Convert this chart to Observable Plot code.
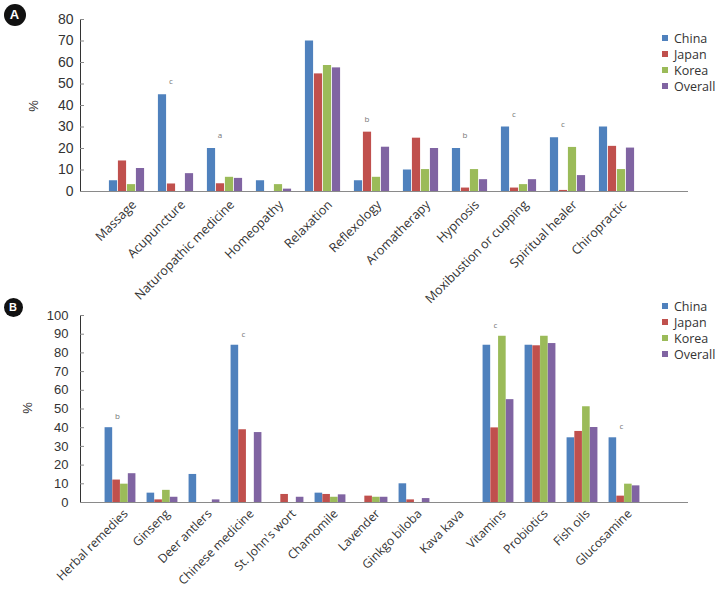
<!DOCTYPE html>
<html><head><meta charset="utf-8">
<script src="https://cdn.jsdelivr.net/npm/d3@7"></script>
<script src="https://cdn.jsdelivr.net/npm/@observablehq/plot@0.6"></script>
<style>
body{margin:0;background:#fff;}
#wrap{position:relative;width:716px;height:589px;overflow:hidden;background:#fff;}
.panel{position:absolute;left:0;}
.panel svg{overflow:visible;}
.panel svg [aria-label^="y-axis"]:not([aria-label$="label"]){stroke:#8a8a8a;}
.badge{position:absolute;border-radius:50%;background:#111;color:#fff;font-family:"Liberation Sans",Arial,sans-serif;font-weight:bold;display:flex;align-items:center;justify-content:center;}
.legend{position:absolute;left:662px;font:12.5px/15px "Open Sans",sans-serif;color:#333;}
.legend div{height:16px;line-height:15px;display:flex;align-items:center;white-space:nowrap;}
.legend .sw{width:6px;height:6px;margin-right:6px;display:inline-block;}
.ylab{position:absolute;font:13px "Liberation Sans",Arial,sans-serif;color:#333;transform:translate(-50%,-50%) rotate(-90deg);}
</style></head><body><div id="wrap"></div>
<script>
// ---------- data ----------
const countries = ["China", "Japan", "Korea", "Overall"];
const colors = ["#4f81bd", "#c0504d", "#9bbb59", "#8064a2"];

const therapies = ["Massage", "Acupuncture", "Naturopathic medicine", "Homeopathy", "Relaxation", "Reflexology", "Aromatherapy", "Hypnosis", "Moxibustion or cupping", "Spiritual healer", "Chiropractic"];
const therapyChina = [5, 45, 20, 5, 70, 5, 10, 20, 30, 25, 30];
const therapyJapan = [14.2, 3.5, 3.6, 0, 54.7, 27.6, 24.8, 1.6, 1.6, 0.5, 21];
const therapyKorea = [3.2, 0, 6.6, 3.2, 58.6, 6.6, 10.2, 10.2, 3.2, 20.5, 10.2];
const therapyOverall = [10.7, 8.3, 6.1, 1.1, 57.5, 20.6, 20, 5.5, 5.5, 7.4, 20.2];
const therapyNotes = ["", "c", "a", "", "", "b", "", "b", "c", "c", ""];
const therapyTicks = [0, 10, 20, 30, 40, 50, 60, 70, 80];

const products = ["Herbal remedies", "Ginseng", "Deer antlers", "Chinese medicine", "St. John's wort", "Chamomile", "Lavender", "Ginkgo biloba", "Kava kava", "Vitamins", "Probiotics", "Fish oils", "Glucosamine"];
const productChina = [40, 5, 15, 84.1, 0, 5, 0, 10, 0, 84.1, 84.1, 34.6, 34.6];
const productJapan = [12, 1.4, 0, 38.9, 4.3, 4.3, 3.4, 1.4, 0, 39.9, 83.8, 38, 3.4];
const productKorea = [9.8, 6.5, 0, 0, 0, 2.8, 2.8, 0, 0, 88.9, 88.9, 51.2, 9.8];
const productOverall = [15.4, 2.8, 1.4, 37.4, 2.8, 4.1, 2.8, 2.1, 0, 55, 85, 40.1, 8.9];
const productNotes = ["b", "", "", "c", "", "", "", "", "", "c", "", "", "c"];
const productTicks = [0, 10, 20, 30, 40, 50, 60, 70, 80, 90, 100];

// ---------- drawing ----------
const wrap = document.getElementById("wrap");

function panel(cfg) {
  const width = 716, marginLeft = 80, marginRight = 28;
  const n = cfg.cats.length;
  const bw = (width - marginLeft - marginRight - cfg.insetLeft - cfg.insetRight) / n;
  const barW = cfg.groupW / 4;
  const marks = [];
  cfg.series.forEach((s, k) => {
    const il = bw / 2 - cfg.groupW / 2 + k * barW;
    marks.push(Plot.barY(cfg.cats.map((c, i) => ({cat: c, v: s[i]})), {
      x: "cat", y: "v", fill: colors[k], insetLeft: il, insetRight: bw - il - barW
    }));
  });
  marks.push(Plot.ruleY([0], {stroke: "#8a8a8a", strokeWidth: 1}));
  marks.push(Plot.text(cfg.cats, {
    x: d => d, frameAnchor: "bottom", rotate: -45, textAnchor: "end",
    dx: cfg.labelDx, dy: cfg.labelDy, fontSize: cfg.labelFont, fontFamily: "Open Sans", fill: "#333"
  }));
  const noteRows = cfg.cats.map((c, i) => ({cat: c, note: cfg.notes[i], top: Math.max(...cfg.series.map(s => s[i]))}))
    .filter(d => d.note);
  marks.push(Plot.text(noteRows, {
    x: "cat", y: "top", text: "note", dx: cfg.noteDx, dy: cfg.noteDy, fontSize: 8, fill: "#777", fontFamily: "Open Sans"
  }));
  const svg = Plot.plot({
    width, height: cfg.height, marginLeft, marginRight, marginTop: cfg.marginTop, marginBottom: cfg.marginBottom,
    style: {fontFamily: "Liberation Sans, Arial, sans-serif", fontSize: cfg.tickFont + "px", color: "#333", background: "transparent", overflow: "visible"},
    x: {domain: cfg.cats, padding: 0, insetLeft: cfg.insetLeft, insetRight: cfg.insetRight, axis: null},
    y: {domain: [0, cfg.ticks[cfg.ticks.length - 1]], ticks: cfg.ticks, tickSize: -4, tickPadding: cfg.tickPadding, label: null, line: true},
    marks
  });
  const holder = document.createElement("div");
  holder.className = "panel";
  holder.style.top = cfg.top + "px";
  holder.appendChild(svg);
  wrap.appendChild(holder);

  // badge
  const b = document.createElement("div");
  b.className = "badge";
  b.textContent = cfg.letter;
  b.style.left = (cfg.badge[0] - cfg.badge[2] / 2) + "px";
  b.style.top = (cfg.badge[1] - cfg.badge[2] / 2) + "px";
  b.style.width = b.style.height = cfg.badge[2] + "px";
  b.style.fontSize = Math.round(cfg.badge[2] * 0.6) + "px";
  wrap.appendChild(b);

  // y label
  const yl = document.createElement("div");
  yl.className = "ylab";
  yl.textContent = "%";
  yl.style.left = cfg.ylab[0] + "px";
  yl.style.top = cfg.ylab[1] + "px";
  wrap.appendChild(yl);

  // legend
  const lg = document.createElement("div");
  lg.className = "legend";
  lg.style.top = cfg.legendTop + "px";
  countries.forEach((c, k) => {
    const row = document.createElement("div");
    const sw = document.createElement("span");
    sw.className = "sw"; sw.style.background = colors[k];
    row.appendChild(sw);
    row.appendChild(document.createTextNode(c));
    lg.appendChild(row);
  });
  wrap.appendChild(lg);
}

panel({
  letter: "A", top: 0, height: 290, marginTop: 19, marginBottom: 99,
  cats: therapies, series: [therapyChina, therapyJapan, therapyKorea, therapyOverall],
  notes: therapyNotes, ticks: therapyTicks, insetLeft: 17, insetRight: 43, groupW: 36,
  tickFont: 14, tickPadding: 11, labelFont: 12.6, labelDx: 10, labelDy: 14, noteDx: -5, noteDy: -13,
  badge: [14.5, 14.5, 22], ylab: [33, 106], legendTop: 30
});

panel({
  letter: "B", top: 290, height: 299, marginTop: 25, marginBottom: 87,
  cats: products, series: [productChina, productJapan, productKorea, productOverall],
  notes: productNotes, ticks: productTicks, insetLeft: 18, insetRight: 42, groupW: 31,
  tickFont: 13, tickPadding: 16, labelFont: 12.2, labelDx: 8, labelDy: 12, noteDx: -3, noteDy: -11,
  badge: [13, 307, 19], ylab: [27, 408], legendTop: 298
});
</script></body></html>
